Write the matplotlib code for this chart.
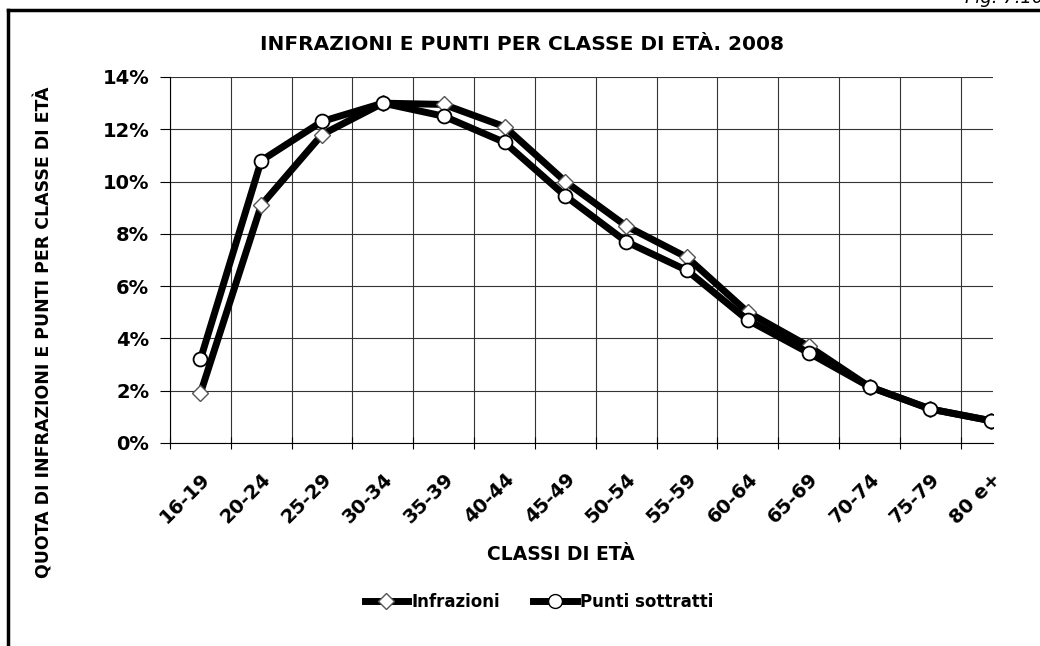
import numpy as np
import matplotlib; matplotlib.use("Agg")
import matplotlib.pyplot as plt
import matplotlib.transforms as mtransforms
from matplotlib.ticker import FixedLocator, PercentFormatter
from matplotlib.lines import Line2D

classi = ["16-19", "20-24", "25-29", "30-34", "35-39", "40-44", "45-49",
          "50-54", "55-59", "60-64", "65-69", "70-74", "75-79", "80 e+"]
infrazioni = [1.9, 9.1, 11.8, 13.0, 12.95, 12.1, 10.0, 8.3, 7.1, 5.0, 3.7, 2.15, 1.3, 0.85]
punti = [3.2, 10.8, 12.3, 13.0, 12.5, 11.5, 9.45, 7.7, 6.6, 4.7, 3.45, 2.15, 1.3, 0.85]

plt.rcParams["font.family"] = ["DejaVu Sans"]

fig = plt.figure(figsize=(10.4, 6.46), dpi=100)
ax = fig.add_axes([170 / 1040, 203 / 646, 823 / 1040, 366 / 646])

x = np.arange(len(classi))
ax.plot(x, infrazioni, color="black", lw=5, marker="D", ms=8.5, mfc="white",
        mec="#555555", mew=1.0, zorder=3)
ax.plot(x, punti, color="black", lw=5, marker="o", ms=10, mfc="white",
        mec="black", mew=1.3, zorder=4)

ax.set_xlim(-0.5, 13.03)
ax.set_ylim(0, 14)
ax.set_yticks(np.arange(0, 15, 2))
ax.yaxis.set_major_formatter(PercentFormatter(decimals=0))
ax.set_xticks(x)
ax.set_xticklabels(classi, rotation=45, ha="right", rotation_mode="anchor",
                   fontsize=14, fontweight="bold")
shift = mtransforms.ScaledTranslation(-7 / 100, 0, fig.dpi_scale_trans)
for t in ax.get_xticklabels():
    t.set_transform(t.get_transform() + shift)
ax.xaxis.set_minor_locator(FixedLocator(np.arange(-0.5, 13.6, 1)))
ax.tick_params(axis="x", which="major", length=0, pad=19)
ax.tick_params(axis="x", which="minor", direction="inout", length=8, width=0.8)
ax.tick_params(axis="y", direction="out", length=7, width=0.8, pad=8,
               labelsize=14)
for t in ax.get_yticklabels():
    t.set_fontweight("bold")

ax.grid(axis="y", which="major", color="#333333", lw=0.8)
ax.grid(axis="x", which="minor", color="#333333", lw=0.8)
for s in ("top", "right"):
    ax.spines[s].set_visible(False)
for s in ("left", "bottom"):
    ax.spines[s].set_linewidth(0.8)

ax.set_xlabel("CLASSI DI ETÀ", fontsize=13.5, fontweight="bold")
ax.xaxis.set_label_coords((561 - 170) / 823, (443 - 555) / 366)
ax.xaxis.label.set_va("center")
ax.set_ylabel("QUOTA DI INFRAZIONI E PUNTI PER CLASSE DI ETÀ", fontsize=12.5,
              fontweight="bold")
ax.yaxis.set_label_coords((53 - 170) / 823, (443 - 332) / 366)
fig.text(522 / 1040, 1 - 45 / 646, "INFRAZIONI E PUNTI PER CLASSE DI ETÀ. 2008",
         ha="center", va="center", fontsize=14.5, fontweight="bold")

handles = [
    Line2D([], [], color="black", lw=5, marker="D", ms=8.5, mfc="white", mec="#555555"),
    Line2D([], [], color="black", lw=5, marker="o", ms=10, mfc="white", mec="black"),
]
fig.legend(handles, ["Infrazioni", "Punti sottratti"], loc="center",
           bbox_to_anchor=(539 / 1040, 1 - 602 / 646), ncol=2, frameon=False,
           prop={"weight": "bold", "size": 12}, handlelength=2.6,
           handletextpad=0.2, columnspacing=2.0)

# page frame and the figure number cut by the scan edge
fig.add_artist(Line2D([8 / 1040, 8 / 1040], [0, 1 - 10 / 646], color="black",
                      lw=2.5, transform=fig.transFigure))
fig.add_artist(Line2D([8 / 1040, 1], [1 - 10 / 646, 1 - 10 / 646], color="black",
                      lw=2.5, transform=fig.transFigure))
fig.text(1.003, 1.003, "Fig. 7.10", ha="right", va="center", fontsize=13,
         style="italic")

fig.savefig("out.png", dpi=100)
